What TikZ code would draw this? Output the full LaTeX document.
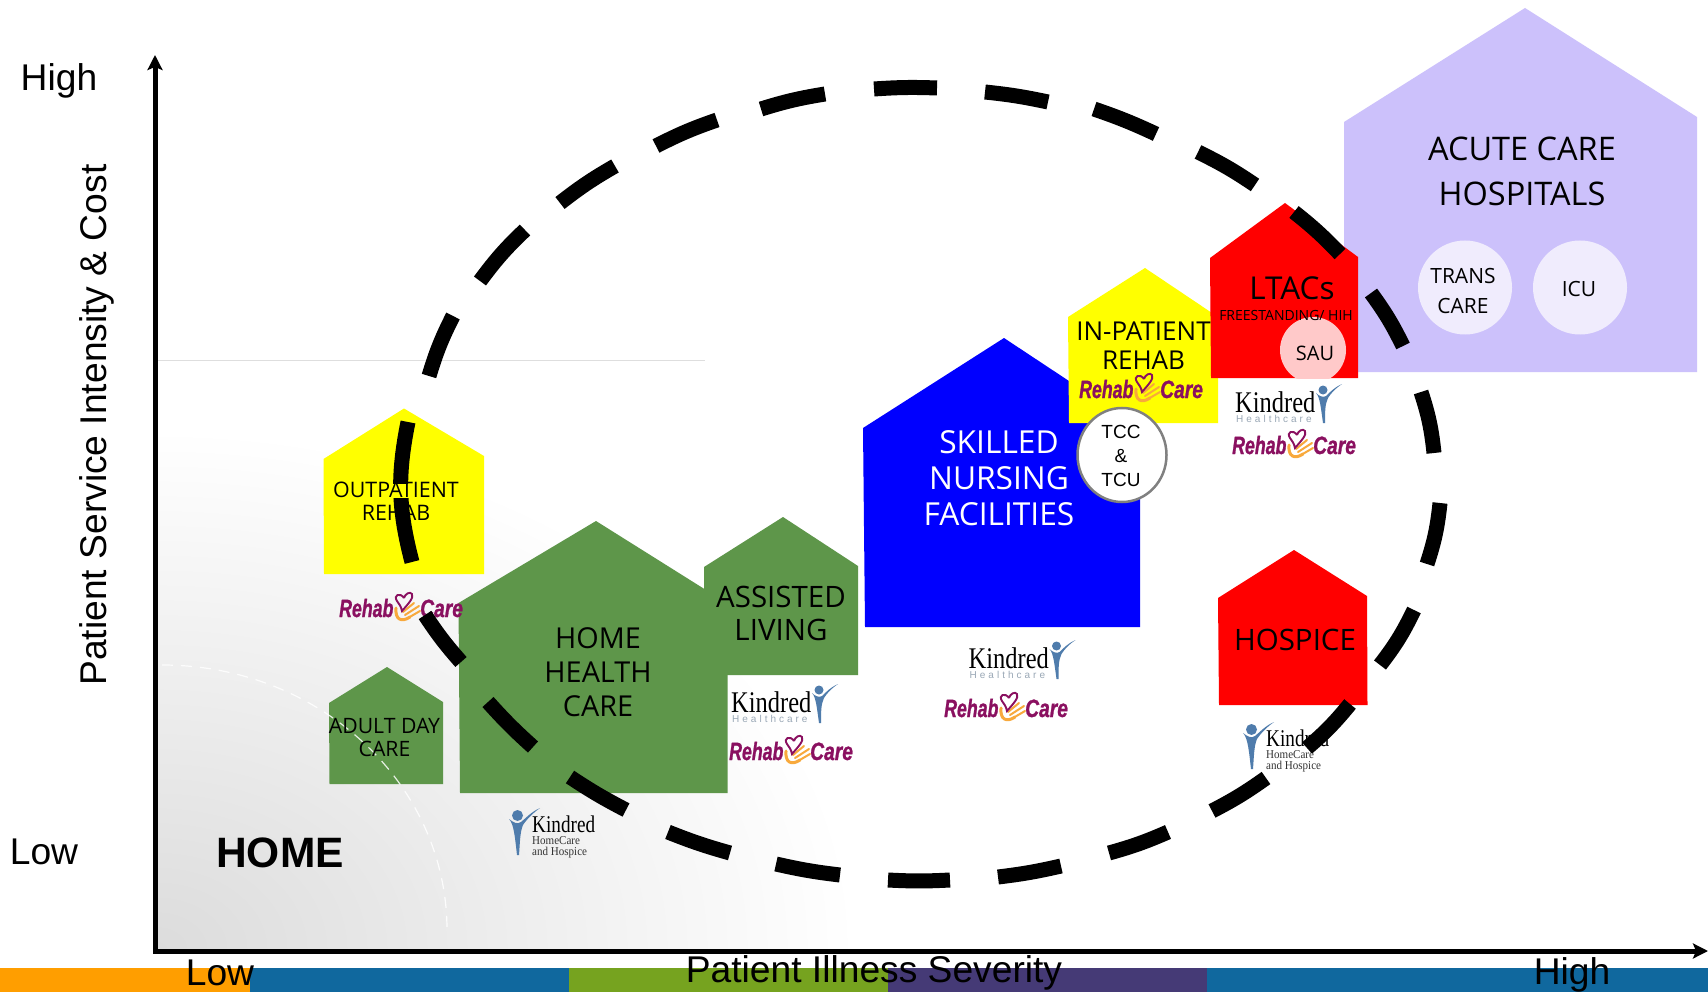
\documentclass[tikz,border=0pt]{standalone}
\usepackage{fontspec}
\usepackage{graphicx}
\usetikzlibrary{arrows.meta}
\setmainfont{Open Sans}
\newfontfamily\arialf{Liberation Sans}
\newfontfamily\serf{Liberation Serif}
\newfontfamily\hcf[LetterSpace=30]{Liberation Sans}
\newfontfamily\rcf[FakeBold=1.2]{Liberation Sans Bold Italic}
\definecolor{homegray}{HTML}{DCDCDC}
\definecolor{lav}{HTML}{CCC1FB}
\definecolor{lavlight}{HTML}{F0ECFD}
\definecolor{sau}{HTML}{FFC9C9}
\definecolor{grn}{HTML}{5E964A}
\definecolor{yel}{RGB}{255,255,0}
\definecolor{rd}{RGB}{255,0,0}
\definecolor{blu}{RGB}{0,0,255}
\definecolor{rcpurple}{HTML}{8A1060}
\definecolor{rcorange}{HTML}{F8A93C}
\definecolor{kblue}{HTML}{4F7CAC}
\definecolor{kgray}{HTML}{9AA8B6}
\definecolor{barorange}{HTML}{FF9E00}
\definecolor{barblue}{HTML}{10689E}
\definecolor{bargreen}{HTML}{76A31F}
\definecolor{barpurple}{HTML}{453A76}
\pgfdeclareradialshading{homefade}{\pgfpointorigin}{color(0bp)=(homegray); color(25bp)=(white); color(50bp)=(white)}
\newcommand{\fsz}[2]{\fontsize{#1}{#2}\selectfont}
\newcommand{\rehablogo}[3]{%
 \begin{scope}[shift={(#2,#3)}]
  \node[anchor=base west,inner sep=0,text=rcpurple] (rehab#1) at (0,24) {\rcf\fsz{25}{25}\scalebox{.71}[1]{Rehab}};
  \node[anchor=base west,inner sep=0,text=rcpurple] (care#1) at (81,24) {\rcf\fsz{25}{25}\scalebox{.77}[1]{Care}};
  \draw[rcorange,line width=3,line cap=round] (57,15) .. controls (56,26) and (62,30) .. (71,24);
  \draw[rcorange,line width=2,line cap=round] (69,25) -- (81,18) (66,22) -- (80,13) (64,19) -- (75,10);
  \draw[rcpurple,line width=1.9] (65,5) .. controls (61,-1) and (54,2) .. (58,8) .. controls (60,11) and (62,13) .. (63,18) .. controls (69,11) and (75,5) .. (73,1) .. controls (71,-2) and (66,1) .. (65,5);
 \end{scope}}
\newcommand{\kindredhc}[3]{%
 \begin{scope}[shift={(#2,#3)}]
  \node[anchor=base west,inner sep=0,text=black] (kind#1) at (0,28.7) {\serf\fsz{30}{30}\scalebox{.815}[1]{Kindred}};
  \node[anchor=base west,inner sep=0,text=kgray] (health#1) at (1,38.2) {\hcf\fsz{10}{10}Healthcare};
  \fill[kblue] (88,6) circle (4.5);
  \fill[kblue] (81,9) .. controls (85,13) and (86,25) .. (88,39) -- (90,39) .. controls (90,28) and (90,20) .. (93,14) .. controls (96,9) and (101,4) .. (107,0) .. controls (100,3) and (95,8) .. (91,12) .. controls (88,14) and (84,12) .. (81,9);
 \end{scope}}
\newcommand{\kindredhh}[3]{%
 \begin{scope}[shift={(#2,#3)}]
  \fill[kblue] (8.5,7.5) circle (5.5);
  \fill[kblue] (0,11) .. controls (5,16) and (6,30) .. (8,47) -- (10,47) .. controls (11,34) and (11,24) .. (14,17) .. controls (18,11) and (24,5) .. (31,0) .. controls (22,4) and (17,10) .. (12,14) .. controls (8,17) and (4,14) .. (0,11);
  \node[anchor=base west,inner sep=0] (kind#1) at (23,24) {\serf\fsz{24}{24}\scalebox{.8}[1]{Kindred}};
  \node[anchor=base west,inner sep=0,text=black!80] (hc#1) at (23,36) {\serf\fsz{12}{12}\scalebox{.92}[1]{HomeCare}};
  \node[anchor=base west,inner sep=0,text=black!80] (hosp#1) at (23,47) {\serf\fsz{12}{12}\scalebox{.92}[1]{and Hospice}};
 \end{scope}}
\tikzset{
 x=1pt,y=-1pt,
 lab/.style={inner sep=0,align=center,text=black},
 ariallab/.style={inner sep=0,align=center,text=black,font=\arialf\fsz{37.2}{40}},
 ringdash/.style={line width=15pt,black,line cap=butt},
 axisline/.style={line width=5pt,black},
 circ/.style={circle,inner sep=0,minimum size=#1},
}
\begin{document}
\begin{tikzpicture}
\useasboundingbox (0,0) rectangle (1708,992);
\fill[white] (0,0) rectangle (1708,992);
% background fade
\begin{scope}
 \clip (157,360) rectangle (900,949);
 \shade[shading=homefade] (157,949) ellipse [x radius=700,y radius=520];
\end{scope}
\draw[line width=.8pt,black!13] (157,360) -- (705,360);
% bars
\fill[barorange] (0,968) rectangle (250,992);
\fill[barblue] (250,968) rectangle (569,992);
\fill[bargreen] (569,968) rectangle (888,992);
\fill[barpurple] (888,968) rectangle (1207,992);
\fill[barblue] (1207,968) rectangle (1708,992);
% axes
\coordinate (orig) at (155,951);
\coordinate (ytip) at (155,55);
\coordinate (xtip) at (1708,951);
\draw[axisline,-{Stealth[length=15pt,width=15pt,inset=3pt]}] (155,953) -- (ytip);
\draw[axisline,-{Stealth[length=15pt,width=15pt,inset=3pt]}] (153,951) -- (xtip);
% houses
\fill[lav] (1344,122) -- (1525,8) -- (1697,117) -- (1697,372) -- (1344,372) -- cycle;
\node[circ=94pt,fill=lavlight] (trans) at (1465,287.5) {};
\node[circ=94pt,fill=lavlight] (icu) at (1580,287.5) {};
\fill[blu] (1004,338) -- (863,428) -- (865,627) -- (1140,627) -- (1140,428) -- cycle;
\fill[yel] (1145,268) -- (1068,317) -- (1069,423) -- (1218,423) -- (1218,317) -- cycle;
\fill[rd] (1285,203) -- (1210,258) -- (1211,378) -- (1358,378) -- (1358,257) -- cycle;
\begin{scope}
 \clip (1211,300) rectangle (1358,378);
 \fill[sau] (1313,350) circle (33);
\end{scope}
\draw[fill=white,draw=black!50,line width=2.5pt] (1122,455) ellipse [x radius=44.5,y radius=47];
\fill[yel] (404,408.5) -- (323.5,459) -- (324,574) -- (484,574) -- (484,456) -- cycle;
\fill[grn] (596,521) -- (458.5,603) -- (460,793) -- (727.5,793) -- (727.5,603.5) -- cycle;
\fill[grn] (783,517) -- (704,567) -- (704,675) -- (858,675) -- (858,566) -- cycle;
\fill[grn] (387,667) -- (329,703) -- (329.5,784) -- (443,784) -- (443,702) -- cycle;
\fill[rd] (1294,550) -- (1218,598) -- (1219,705) -- (1367.5,705) -- (1367,596) -- cycle;
% white dashed arc
\draw[white,line width=1.2pt,dash pattern=on 11pt off 8pt,opacity=.85] (162,665) arc [start angle=-90,end angle=0,x radius=285,y radius=265];
% logos
\rehablogo{a}{339}{593}
\rehablogo{b}{729}{736}
\rehablogo{c}{944}{693}
\rehablogo{d}{1079}{374}
\rehablogo{e}{1232}{430}
\kindredhc{a}{731}{684}
\kindredhc{b}{968.5}{640}
\kindredhc{c}{1235}{384}
\kindredhh{a}{509}{808}
\kindredhh{b}{1243}{722}
% labels
\node[lab,font=\fsz{32.5}{45}] (acute) at (1522,171) {ACUTE CARE\\HOSPITALS};
\node[lab,font=\fsz{21}{29}] (transt) at (1463,291) {TRANS\\CARE};
\node[lab,font=\fsz{21}{25}] (icut) at (1579,289) {ICU};
\node[lab,font=\fsz{31.5}{32}] (ltac) at (1292,288) {LTACs};
\node[lab,font=\fsz{14}{16}] (free) at (1286,315) {FREESTANDING/ HIH};
\node[lab,font=\fsz{20}{24}] (saut) at (1315,353) {SAU};
\node[lab,font=\fsz{26}{28.5}] (inp) at (1143.5,345.5) {IN-PATIENT\\REHAB};
\node[lab,text=white,font=\fsz{31.7}{36}] (snf) at (999,478) {SKILLED\\NURSING\\FACILITIES};
\node[lab,font=\fsz{28.8}{34}] (hhc) at (598,672) {HOME\\HEALTH\\CARE};
\node[lab,font=\fsz{29.5}{33}] (asst) at (781,613) {ASSISTED\\LIVING};
\node[lab,font=\fsz{21.4}{24}] (outpb) at (396,513) {REHAB};
\node[lab,font=\fsz{21.2}{23}] (adult) at (384.5,738) {ADULT DAY\\CARE};
\node[lab,font=\fsz{29.5}{32}] (hosp) at (1295,640) {HOSPICE};
\node[lab,font=\arialf\fsz{19}{24}] (tcct) at (1121,456) {TCC\\\&\\TCU};
\node[lab,font=\arialf\bfseries\fsz{42.5}{42}] (homet) at (280,853) {HOME};
\node[ariallab] (hi1) at (59,81) {High};
\node[ariallab] (lo1) at (44,852) {Low};
\node[ariallab] (lo2) at (220,973) {Low};
\node[ariallab] (sev) at (874,973) {Patient Illness Severity};
\node[ariallab] (hi2) at (1572,975) {High};
\node[ariallab,rotate=90] (svc) at (97,425) {Patient Service Intensity \& Cost};
% dashed ring
\foreach \ax/\ay/\bx/\by/\bd in {
 412/562/408/422/13, 429/376/453/316/5, 480/281/525/230/5, 560/203/615/166/4,
 656/146/717/120/4, 761/109/825/94/4, 874/89/937/88/3, 985/92/1048/102/3,
 1094/109/1156/134/3, 1198/152/1255/185/4, 1294/212/1340/254/4, 1371/293/1403/346/5,
 1421/392/1434/453/6, 1440/503/1427/564/6, 1414/610/1380/665/6, 1350/704/1307/748/5,
 1266/778/1212/811/4, 1168/832/1109/853/4, 1061/866/998/877/3, 950/880/888/880/3,
 840/875/776/864/3, 730/853/668/832/3, 626/810/570/777/3, 533/747/488/702/3, 461/662/425/615/4}
 \draw[ringdash] (\ax,\ay) to[bend left=\bd] (\bx,\by);
% first text line sits on a yellow strip above the ring
\fill[yel] (390,484) rectangle (420,498);
\node[lab,font=\fsz{21.4}{24}] (outp) at (396,489.5) {OUTPATIENT};
\end{tikzpicture}
\end{document}
